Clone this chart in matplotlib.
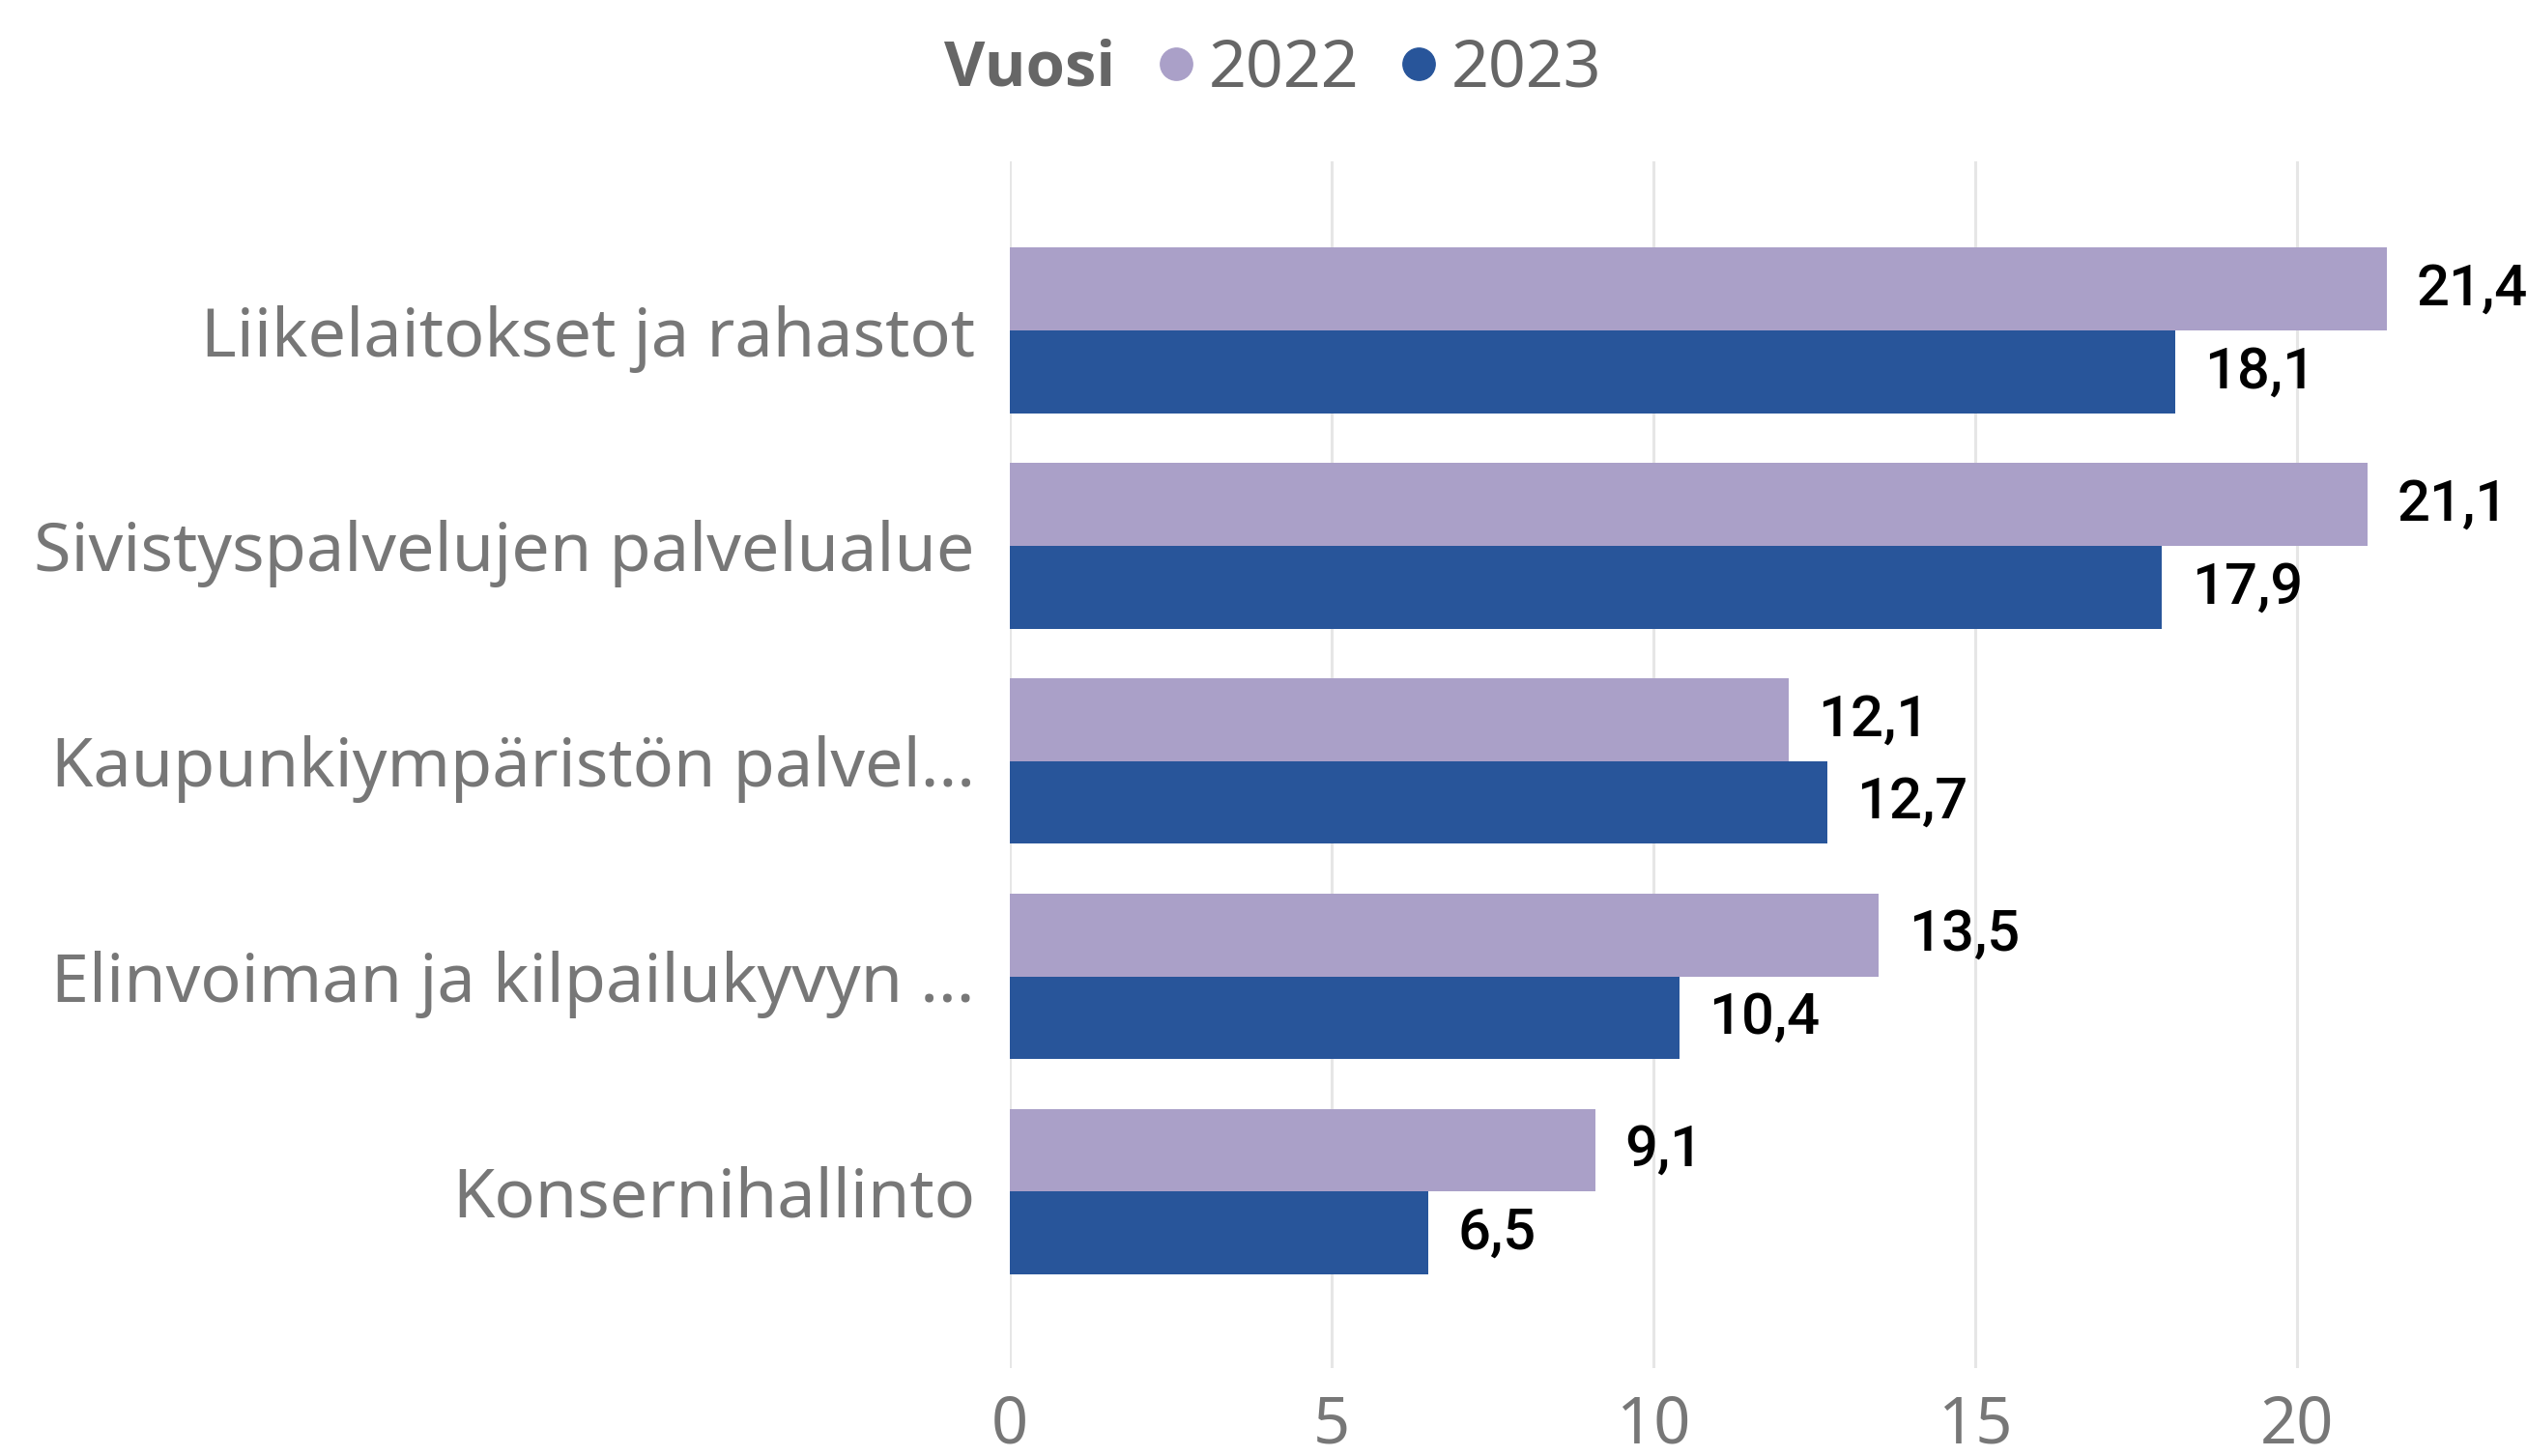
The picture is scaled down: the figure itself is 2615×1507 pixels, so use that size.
import matplotlib
matplotlib.use("Agg")
import matplotlib.pyplot as plt
from matplotlib.lines import Line2D
import numpy as np

categories = [
    "Liikelaitokset ja rahastot",
    "Sivistyspalvelujen palvelualue",
    "Kaupunkiympäristön palvel...",
    "Elinvoiman ja kilpailukyvyn ...",
    "Konsernihallinto",
]
vals_2022 = [21.4, 21.1, 12.1, 13.5, 9.1]
vals_2023 = [18.1, 17.9, 12.7, 10.4, 6.5]
years = ["2022", "2023"]
colors = ["#AAA0C8", "#28559A"]
xticks = [0, 5, 10, 15, 20]

W, H = 2615, 1507
fig = plt.figure(figsize=(W / 100, H / 100), dpi=100)
ax = fig.add_axes([1045 / W, 1 - 1416 / H, 1 - 1045 / W, (1416 - 167) / H])

y = np.arange(len(categories))
bh = 0.385
bars1 = ax.barh(y - bh / 2, vals_2022, height=bh, color=colors[0], zorder=2)
bars2 = ax.barh(y + bh / 2, vals_2023, height=bh, color=colors[1], zorder=2)

def fmt(v):
    return f"{v:.1f}".replace(".", ",")

for bars, vals in [(bars1, vals_2022), (bars2, vals_2023)]:
    for b, v in zip(bars, vals):
        ax.annotate(fmt(v), (v, b.get_y() + b.get_height() / 2),
                    xytext=(22, 0), textcoords="offset points",
                    ha="left", va="center", fontsize=43, color="black",
                    family="Roboto", fontweight="medium", annotation_clip=False)

ax.set_xlim(0, 23.57)
ax.set_ylim(4.82, -0.786)
ax.set_xticks(xticks)
ax.set_xticklabels([str(t) for t in xticks])
ax.set_yticks(y)
ax.set_yticklabels(categories)
ax.tick_params(axis="x", length=0, pad=18, labelsize=48, labelcolor="#777777")
ax.tick_params(axis="y", length=0, pad=26, labelsize=50.5, labelcolor="#777777")
for lab in ax.get_xticklabels() + ax.get_yticklabels():
    lab.set_family("Noto Sans")
ax.grid(axis="x", color="#E6E6E6", linewidth=2.2, zorder=0)
ax.set_axisbelow(True)
for s in ax.spines.values():
    s.set_visible(False)

# legend
fig.text(1154 / W, 1 - 72 / H, "Vuosi", ha="right", va="center", fontsize=47,
         fontweight="bold", color="#666666", family="Open Sans")
handles = [Line2D([], [], marker="o", linestyle="none", markersize=24,
                  markerfacecolor=c, markeredgecolor=c) for c in colors]
leg = fig.legend(handles, years, loc="center left", bbox_to_anchor=(1190 / W, 1 - 72 / H),
                 ncol=2, frameon=False, handletextpad=0.1, columnspacing=0.5,
                 handlelength=0.8, borderpad=0, borderaxespad=0,
                 prop={"family": "Noto Sans", "size": 49})
for t in leg.get_texts():
    t.set_color("#666666")

fig.savefig("out.png", dpi=100)
